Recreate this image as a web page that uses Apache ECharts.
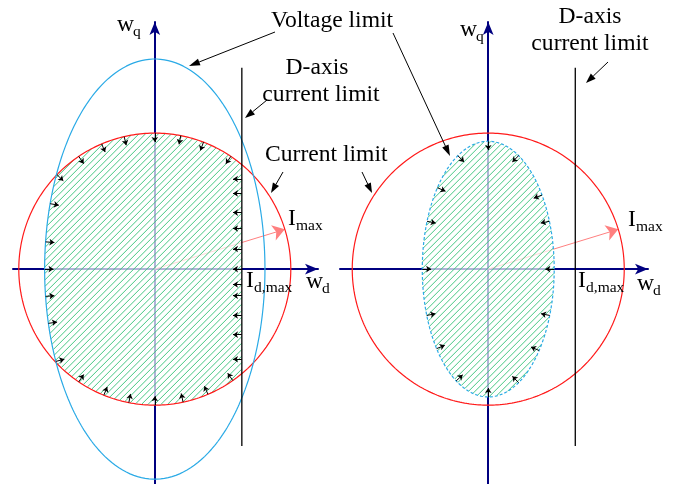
<!DOCTYPE html>
<html>
<head>
<meta charset="utf-8">
<script src="https://cdn.jsdelivr.net/npm/echarts@6/dist/echarts.min.js"></script>
<style>
  html, body { margin: 0; padding: 0; background: #ffffff; }
  #chart { width: 694px; height: 484px; }
</style>
</head>
<body>
<div id="chart"></div>
<script>
// Operating limits in the d-q plane, normalised so that I_max = 1.
// Index 0: left panel (voltage ellipse larger than current circle),
// index 1: right panel (voltage ellipse inside the current circle).
const currentLimit = [1.0, 1.0];
const dAxisLimit = [0.64, 0.64];
const voltageLeft = [0.81, 1.545];   // semi-axes [d, q]
const voltageRight = [0.485, 0.94];  // semi-axes [d, q]
const imaxAngleDeg = [17, 17];
const dLimitSpan = [-1.30, 1.48];    // q extent of the I_d,max line

// Polar angles (degrees) of the small inward arrows on the feasible boundary
const arrowAnglesLeft = [136, 124, 113, 103, 90, 79, 69, 56,
  46, 41, 33, 25, 13, 0, -10, -17, -28, -37, -46,
  -55, -67, -78, -90, -101, -112, -124, -137, -153, -166, 180, 166, 148];
const arrowAnglesRight = [90, 75, 54, 38, 0, -37, -58, -75, -90,
  -106, -123, -143, 180, 142, 122, 105];

// Text labels
const labelVoltage = 'Voltage limit';
const labelDAxis = ['D-axis', 'current limit'];
const labelCurrent = 'Current limit';
const labelImax = ['I', 'max'];
const labelIdmax = ['I', 'd,max'];
const labelWd = ['w', 'd'];
const labelWq = ['w', 'q'];

const panels = [
  { R: currentLimit[0], id: dAxisLimit[0], a: voltageLeft[0], b: voltageLeft[1],
    ang: imaxAngleDeg[0], arrows: arrowAnglesLeft, dashed: false },
  { R: currentLimit[1], id: dAxisLimit[1], a: voltageRight[0], b: voltageRight[1],
    ang: imaxAngleDeg[1], arrows: arrowAnglesRight, dashed: true }
];

const rad = d => d * Math.PI / 180;

// Distance from the origin to the feasible boundary along direction theta,
// plus the outward normal of whichever limit is active there.
function boundary(p, theta) {
  const c = Math.cos(theta), s = Math.sin(theta);
  const rC = p.R;
  const rE = 1 / Math.sqrt(c * c / (p.a * p.a) + s * s / (p.b * p.b));
  const rL = c > 1e-9 ? p.id / c : Infinity;
  let r = rC, kind = 'c';
  if (rE < r) { r = rE; kind = 'e'; }
  if (rL < r) { r = rL; kind = 'l'; }
  const x = r * c, y = r * s;
  let nx, ny;
  if (kind === 'c') { nx = x; ny = y; }
  else if (kind === 'e') { nx = x / (p.a * p.a); ny = y / (p.b * p.b); }
  else { nx = 1; ny = 0; }
  const n = Math.hypot(nx, ny);
  return { x, y, nx: nx / n, ny: ny / n };
}

function inside(p, x, y) {
  return x * x + y * y <= p.R * p.R &&
    (x * x) / (p.a * p.a) + (y * y) / (p.b * p.b) <= 1 &&
    x <= p.id;
}

function regionPolygon(p) {
  const pts = [];
  for (let i = 0; i < 720; i++) {
    const b = boundary(p, rad(i / 2));
    pts.push([b.x, b.y]);
  }
  return pts;
}

// 45-degree hatch lines (q = d + c) clipped to the convex feasible region
function hatchLines(p, step) {
  const out = [];
  for (let c = -3; c <= 3; c += step) {
    let t0 = null, t1 = null;
    for (let t = -1.6; t <= 1.6; t += 0.0015) {
      if (inside(p, t, t + c)) { if (t0 === null) t0 = t; t1 = t; }
    }
    if (t0 !== null && t1 > t0) out.push({ coords: [[t0, t0 + c], [t1, t1 + c]] });
  }
  return out;
}

function ellipsePts(a, b) {
  const pts = [];
  for (let i = 0; i <= 360; i++) pts.push([a * Math.cos(rad(i)), b * Math.sin(rad(i))]);
  return pts;
}

const AX = '#000080';
const axisCommon = {
  type: 'value',
  axisTick: { show: false },
  axisLabel: { show: false },
  splitLine: { show: false },
  axisLine: {
    onZero: true,
    symbol: ['none', 'arrow'],
    symbolSize: [8, 13],
    lineStyle: { color: AX, width: 2 }
  }
};

const grids = [
  { left: 13, top: 22, width: 305, height: 462 },
  { left: 340, top: 22, width: 308, height: 462 }
];
const xAxes = [
  Object.assign({}, axisCommon, { gridIndex: 0, min: -1.0426, max: 1.2 }),
  Object.assign({}, axisCommon, { gridIndex: 1, min: -1.09, max: 1.1747 })
];
const yAxes = [
  Object.assign({}, axisCommon, { gridIndex: 0, min: -1.58, max: 1.817 }),
  Object.assign({}, axisCommon, { gridIndex: 1, min: -1.58, max: 1.817 })
];

const series = [];
panels.forEach((p, i) => {
  const base = { xAxisIndex: i, yAxisIndex: i, silent: true, animation: false };
  const region = regionPolygon(p);
  // I_max vector
  series.push(Object.assign({}, base, {
    type: 'lines', coordinateSystem: 'cartesian2d', z: 1,
    symbol: ['none', 'arrow'], symbolSize: [7, 12],
    lineStyle: { color: '#ff8080', width: 1, opacity: 1 },
    data: [{ coords: [[0, 0], [p.R * Math.cos(rad(p.ang)), p.R * Math.sin(rad(p.ang))]] }]
  }));
  // feasible operating region: pale wash
  series.push(Object.assign({}, base, {
    type: 'custom', z: 2, clip: false,
    data: [[0, 0]],
    renderItem: (params, api) => ({
      type: 'polygon',
      shape: { points: region.map(q => api.coord(q)) },
      style: { fill: 'rgba(255,255,255,0.7)' }
    })
  }));
  // feasible operating region: hatching
  series.push(Object.assign({}, base, {
    type: 'lines', coordinateSystem: 'cartesian2d', z: 2,
    lineStyle: { color: '#3cc47c', width: 1, opacity: 0.95 },
    data: hatchLines(p, 0.0478)
  }));
  // current limit circle
  series.push(Object.assign({}, base, {
    type: 'line', z: 3, showSymbol: false, symbol: 'none',
    lineStyle: { color: '#ff1a1a', width: 1.2 },
    data: ellipsePts(p.R, p.R)
  }));
  // voltage limit ellipse
  series.push(Object.assign({}, base, {
    type: 'line', z: 3, showSymbol: false, symbol: 'none',
    lineStyle: { color: '#2aaae6', width: 1.2, type: p.dashed ? [3, 2] : 'solid' },
    data: ellipsePts(p.a, p.b)
  }));
  // d-axis current limit
  series.push(Object.assign({}, base, {
    type: 'line', z: 3, showSymbol: false, symbol: 'none',
    lineStyle: { color: '#000000', width: 1.3 },
    data: [[p.id, dLimitSpan[0]], [p.id, dLimitSpan[1]]]
  }));
  // small inward arrows along the feasible boundary
  const L = 0.065;
  series.push(Object.assign({}, base, {
    type: 'lines', coordinateSystem: 'cartesian2d', z: 4,
    symbol: ['none', 'arrow'], symbolSize: [4, 5],
    lineStyle: { color: '#000000', width: 1, opacity: 1 },
    data: p.arrows.map(d => {
      const b = boundary(p, rad(d));
      return { coords: [[b.x, b.y], [b.x - L * b.nx, b.y - L * b.ny]] };
    })
  }));
});

// Annotation text and call-out arrows
const FONT = '"Liberation Serif", "Times New Roman", serif';
const FS = 23.6, SS = 15.5;
function txt(str, x, baseline, size, align) {
  return {
    type: 'text', x: x, y: baseline - 0.84 * size, silent: true, z: 10,
    style: { text: str, font: size + 'px ' + FONT, fill: '#000', align: align || 'left', verticalAlign: 'top' }
  };
}
function sub(main, s, x, baseline) {
  const w = main === 'I' ? 8 : 16;
  return [txt(main, x, baseline, FS), txt(s, x + w, baseline + 4, SS)];
}
function arrow(x1, y1, x2, y2, color, len, w) {
  const a = Math.atan2(y2 - y1, x2 - x1);
  const c = Math.cos(a), s = Math.sin(a);
  const bx = x2 - len * c, by = y2 - len * s;
  const px = -s * w / 2, py = c * w / 2;
  return [
    { type: 'line', silent: true, z: 10, shape: { x1: x1, y1: y1, x2: bx, y2: by }, style: { stroke: color, lineWidth: 1 } },
    { type: 'polygon', silent: true, z: 10, shape: { points: [[x2, y2], [bx + px, by + py], [bx - px, by - py]] }, style: { fill: color } }
  ];
}

const graphics = [].concat(
  txt(labelVoltage, 271, 29, FS),
  txt(labelDAxis[0], 317, 76, FS, 'center'),
  txt(labelDAxis[1], 321, 103, FS, 'center'),
  txt(labelCurrent, 265, 163, FS),
  txt(labelDAxis[0], 590, 25, FS, 'center'),
  txt(labelDAxis[1], 590, 52, FS, 'center'),
  sub(labelWq[0], labelWq[1], 117, 33),
  sub(labelWq[0], labelWq[1], 460, 38),
  sub(labelImax[0], labelImax[1], 288, 227),
  sub(labelImax[0], labelImax[1], 628, 228),
  sub(labelIdmax[0], labelIdmax[1], 246, 289),
  sub(labelIdmax[0], labelIdmax[1], 578, 289),
  sub(labelWd[0], labelWd[1], 306, 290),
  sub(labelWd[0], labelWd[1], 637, 292),
  arrow(275, 32, 189, 66, '#000', 11, 7),
  arrow(393, 33, 450, 156, '#000', 11, 7),
  arrow(267, 100, 245, 118, '#000', 10, 7),
  arrow(608, 62, 586, 83, '#000', 10, 7),
  arrow(283, 172, 271, 193, '#000', 10, 7),
  arrow(362, 172, 372, 193, '#000', 10, 7)
);

const chart = echarts.init(document.getElementById('chart'), null, { renderer: 'canvas' });
chart.setOption({
  animation: false,
  backgroundColor: '#ffffff',
  grid: grids,
  xAxis: xAxes,
  yAxis: yAxes,
  series: series,
  graphic: graphics
});
</script>
</body>
</html>
